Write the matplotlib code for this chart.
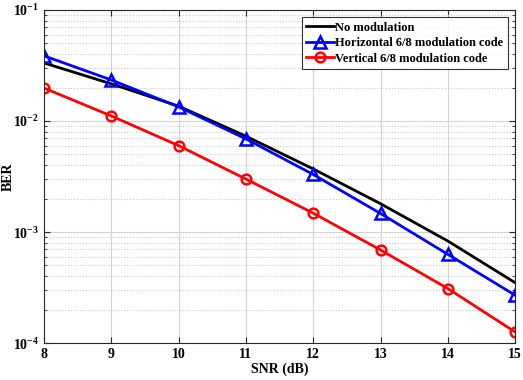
import matplotlib
matplotlib.use("Agg")
import matplotlib.pyplot as plt
from matplotlib.ticker import LogLocator, NullFormatter

snr = [8, 9, 10, 11, 12, 13, 14, 15]
ber_none = [0.0333, 0.0216, 0.0136, 0.0073, 0.0037, 0.0018, 0.00083, 0.00035]
ber_horiz = [0.0386, 0.0234, 0.0134, 0.0069, 0.0033, 0.00147, 0.00063, 0.00027]
ber_vert = [0.0198, 0.0111, 0.0060, 0.0030, 0.00148, 0.00069, 0.00031, 0.000126]
labels = ["No modulation", "Horizontal 6/8 modulation code", "Vertical 6/8 modulation code"]

plt.rcParams['font.family'] = ['Liberation Serif', 'DejaVu Serif']
plt.rcParams['font.weight'] = 'bold'

fig = plt.figure(figsize=(5.23, 3.8), dpi=100)
ax = fig.add_axes([0.084, 0.097, 0.901, 0.877])

ax.semilogy(snr, ber_none, color='black', lw=2, label=labels[0])
ax.semilogy(snr, ber_horiz, color='blue', lw=2, marker='^', ms=8, mfc='none', mew=1.8, label=labels[1])
ax.semilogy(snr, ber_vert, color='red', lw=2, marker='o', ms=7, mfc='none', mew=1.8, label=labels[2])

ax.set_xlim(8, 15)
ax.set_ylim(1e-4, 1e-1)
ax.set_xticks(snr)
ax.set_xticklabels([str(s) for s in snr])
ax.yaxis.set_major_locator(LogLocator(base=10, numticks=10))
ax.yaxis.set_minor_locator(LogLocator(base=10, subs=range(2, 10), numticks=20))
ax.yaxis.set_minor_formatter(NullFormatter())

ax.grid(True, which='major', color='#d4d4d4', lw=0.8, ls='-')
ax.grid(True, which='minor', axis='y', color='#c8c8c8', lw=0.8, ls=':')
ax.set_axisbelow(True)

ax.tick_params(which='both', direction='in', top=True, right=True, labelsize=10, colors='#262626')
ax.tick_params(which='major', length=4)
ax.tick_params(which='minor', length=2)
for lab in ax.get_xticklabels() + ax.get_yticklabels():
    lab.set_fontweight('bold')
    lab.set_color('black')
for s in ax.spines.values():
    s.set_color('#262626')
    s.set_linewidth(0.8)

ax.set_xlabel("SNR (dB)", fontsize=10, fontweight='bold', labelpad=1)
ax.set_ylabel("BER", fontsize=10, fontweight='bold')
ax.yaxis.set_label_coords(-0.062, 0.5)

leg = ax.legend(loc='upper right', fontsize=9, frameon=True, fancybox=False,
                edgecolor='black', handlelength=2.2, handletextpad=0.1,
                borderpad=0.35, labelspacing=0.27, borderaxespad=0.6)
leg.get_frame().set_linewidth(0.8)
for t in leg.get_texts():
    t.set_fontweight('bold')

fig.savefig("out.png", dpi=100)
